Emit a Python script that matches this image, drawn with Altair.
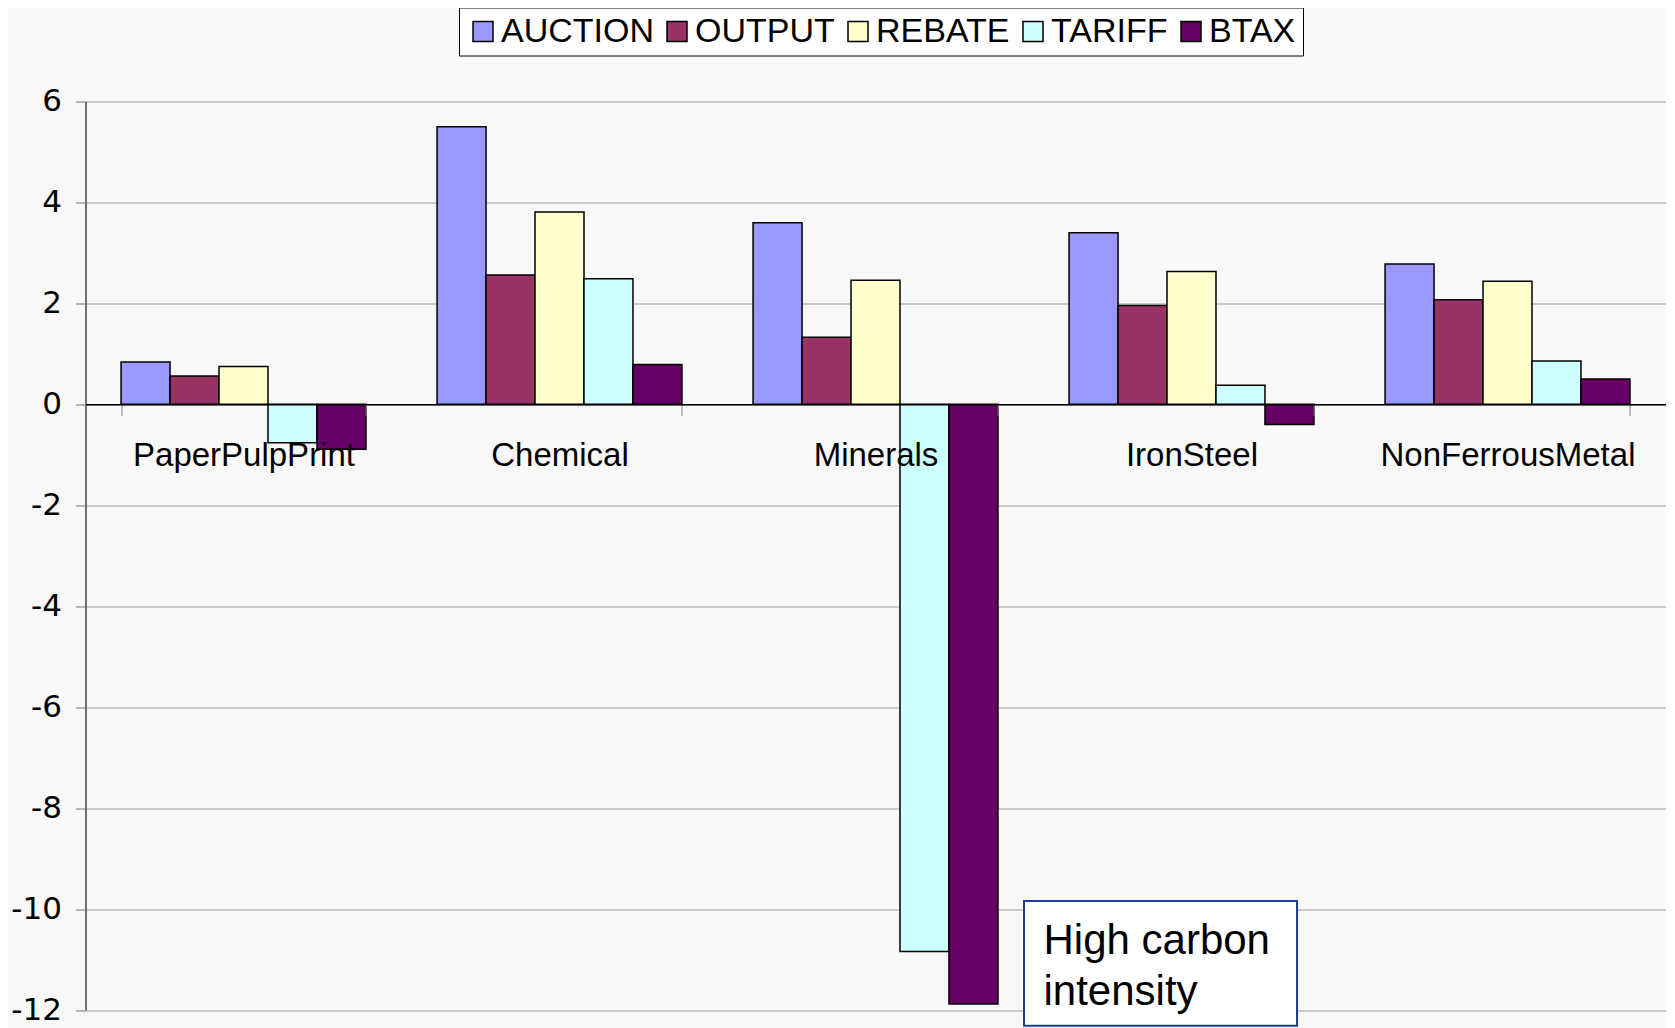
import altair as alt
import pandas as pd

categories = ["PaperPulpPrint", "Chemical", "Minerals", "IronSteel", "NonFerrousMetal"]
series = ["AUCTION", "OUTPUT", "REBATE", "TARIFF", "BTAX"]
auction = [0.84, 5.50, 3.60, 3.40, 2.78]
output = [0.56, 2.56, 1.33, 1.96, 2.07]
rebate = [0.75, 3.81, 2.46, 2.63, 2.44]
tariff = [-0.76, 2.49, -10.84, 0.38, 0.86]
btax = [-0.89, 0.79, -11.88, -0.40, 0.50]
colors = ["#9999FF", "#993366", "#FFFFCC", "#CCFFFF", "#660066"]
y_ticks = [-12, -10, -8, -6, -4, -2, 0, 2, 4, 6]
annotation_lines = ["High carbon", "intensity"]

values = [auction, output, rebate, tariff, btax]
rows = []
for s, vals in zip(series, values):
    for c, v in zip(categories, vals):
        rows.append({"category": c, "series": s, "value": v})
df = pd.DataFrame(rows)

W = 1580
H = 908.5
zero_offset = -(H * 12 / 18)

bars = alt.Chart(df).mark_bar(stroke="black", strokeWidth=1.5, opacity=1).encode(
    x=alt.X("category:N", sort=categories,
            scale=alt.Scale(paddingInner=0.225, paddingOuter=0.1125),
            axis=alt.Axis(title=None, orient="bottom", offset=zero_offset,
                          domainColor="black", domainWidth=1.5,
                          tickBand="extent", tickColor="#808080", tickSize=11,
                          labelFont="Liberation Sans", labelFontSize=33,
                          labelColor="black", labelAngle=0, labelBaseline="middle",
                          labelPadding=40, labelOverlap=False, labelBound=False,
                          labelLimit=0, grid=False, zindex=1)),
    xOffset=alt.XOffset("series:N", sort=series,
                        scale=alt.Scale(paddingInner=0, paddingOuter=0)),
    y=alt.Y("value:Q", scale=alt.Scale(domain=[-12, 6], nice=False, zero=False),
            axis=alt.Axis(title=None, values=y_ticks, grid=True, gridColor="#9a9a9a",
                          gridWidth=1, domainColor="#707070", domainWidth=2,
                          tickColor="#707070", tickSize=10, labelFont="DejaVu Sans",
                          labelFontSize=31, labelColor="black", labelPadding=14,
                          labelExpr="datum.value < 0 ? '-' + abs(datum.value) : '' + datum.value",
                          labelBound=False, zindex=0)),
    color=alt.Color("series:N", sort=series,
                    scale=alt.Scale(domain=series, range=colors),
                    legend=alt.Legend(title=None, orient="none", direction="horizontal",
                                      legendX=373.5, legendY=-94,
                                      fillColor="white", strokeColor="black",
                                      padding=7, symbolType="square", symbolSize=400,
                                      symbolStrokeColor="black", symbolStrokeWidth=1.5,
                                      symbolOpacity=1,
                                      labelFont="Liberation Sans", labelFontSize=34,
                                      labelColor="black", labelOffset=1,
                                      columnPadding=6, labelLimit=400)),
)

box = alt.Chart(pd.DataFrame({"t": [annotation_lines[0]]})).mark_rect(
    fill="white", stroke="#1f3c99", strokeWidth=2
).encode(
    x=alt.value(938.5), x2=alt.value(1211.5),
    y=alt.value(799.5), y2=alt.value(924.2),
)

label = alt.Chart(pd.DataFrame({"t": [annotation_lines[0]]})).mark_text(
    font="Liberation Sans", fontSize=42, color="black", align="left",
    baseline="alphabetic", lineHeight=51
).encode(
    x=alt.value(958), y=alt.value(852.5),
    text=alt.value(annotation_lines),
)

chart = alt.layer(bars, box, label).properties(
    width=W, height=H,
    autosize=alt.AutoSizeParams(type="none"),
    padding={"left": 77.5, "top": 93.5, "right": 0, "bottom": 18},
    background="#f8f8f8",
).configure_view(stroke=None)

chart.save("out.html", embed_options={"renderer": "svg", "actions": False})
